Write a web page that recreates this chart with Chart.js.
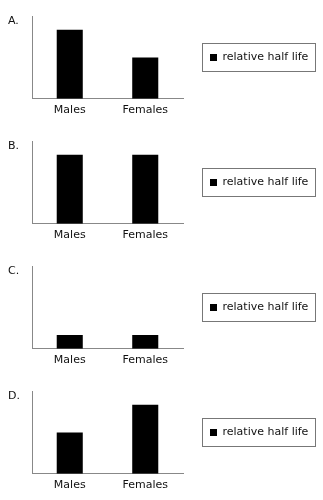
<!DOCTYPE html>
<html>
<head>
<meta charset="utf-8">
<script src="https://cdn.jsdelivr.net/npm/chart.js@4.4.0/dist/chart.umd.min.js"></script>
<style>
  body { margin: 0; background: #fff; }
  canvas { display: block; }
</style>
</head>
<body>
<canvas id="chartA" width="323" height="125"></canvas>
<canvas id="chartB" width="323" height="125"></canvas>
<canvas id="chartC" width="323" height="125"></canvas>
<canvas id="chartD" width="323" height="125"></canvas>
<script>
var categories = ["Males", "Females"];
var seriesName = "relative half life";
var panelLetters = ["A.", "B.", "C.", "D."];
var valuesA = [5, 3];
var valuesB = [5, 5];
var valuesC = [1, 1];
var valuesD = [3, 5];
var yMax = 6;

Chart.defaults.font.family = '"DejaVu Sans", Verdana, sans-serif';
Chart.defaults.font.size = 11;
Chart.defaults.color = '#111';

// panel letter on the left + grey frame round the legend
var panelExtras = {
  id: 'panelExtras',
  afterDraw: function(chart, args, opts) {
    var ctx = chart.ctx;
    ctx.save();
    ctx.fillStyle = '#111';
    ctx.font = '11px "DejaVu Sans"';
    ctx.textBaseline = 'middle';
    ctx.fillText(opts.letter, 8, chart.chartArea.top + 5);
    var hb = chart.legend.legendHitBoxes[0];
    if (hb) {
      var cy = hb.top + hb.height / 2;
      ctx.strokeStyle = '#777';
      ctx.lineWidth = 1;
      ctx.strokeRect(Math.round(hb.left - 8) + 0.5, Math.round(cy - 14) + 0.5,
                     Math.round(hb.width + 15), 28);
    }
    ctx.restore();
  }
};

function makeChart(id, values, letter) {
  return new Chart(document.getElementById(id), {
    type: 'bar',
    data: {
      labels: categories,
      datasets: [{
        label: seriesName,
        data: values,
        backgroundColor: '#000',
        borderWidth: 0,
        categoryPercentage: 1,
        barPercentage: 0.345
      }]
    },
    plugins: [panelExtras],
    options: {
      responsive: false,
      animation: false,
      layout: { padding: { left: 32, top: 16, right: 8, bottom: 3 } },
      scales: {
        x: {
          grid: { display: false, drawTicks: false },
          border: { display: true, color: '#888', width: 1 },
          ticks: { padding: 5, color: '#111', font: { size: 11 } }
        },
        y: {
          min: 0,
          max: yMax,
          grid: { display: false, drawTicks: false },
          border: { display: true, color: '#888', width: 1 },
          ticks: { display: false }
        }
      },
      plugins: {
        tooltip: { enabled: false },
        panelExtras: { letter: letter },
        legend: {
          position: 'right',
          fullSize: false,
          maxWidth: 132,
          labels: {
            boxWidth: 7,
            boxHeight: 7,
            padding: 27,
            color: '#111',
            font: { size: 11 }
          }
        }
      }
    }
  });
}

makeChart('chartA', valuesA, panelLetters[0]);
makeChart('chartB', valuesB, panelLetters[1]);
makeChart('chartC', valuesC, panelLetters[2]);
makeChart('chartD', valuesD, panelLetters[3]);
</script>
</body>
</html>
